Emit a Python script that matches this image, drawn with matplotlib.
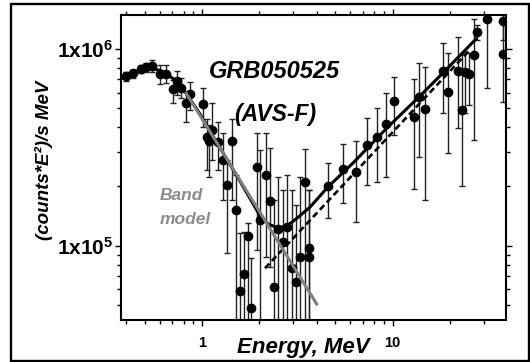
import numpy as np
import matplotlib
matplotlib.use('Agg')
import matplotlib.pyplot as plt
from matplotlib.patches import Rectangle
from matplotlib.ticker import FixedLocator, FixedFormatter, LogLocator, NullFormatter

# GRB050525, AVS-F spectrum; fluxes in units of 1e5 (counts*E^2)/s MeV
energy = [0.398, 0.435, 0.477, 0.510, 0.549, 0.600, 0.645, 0.705, 0.742, 0.779,
          0.827, 0.862, 1.012, 1.058, 1.092, 1.135, 1.209, 1.281, 1.360, 1.436,
          1.513, 1.582, 1.661, 1.743, 1.814, 1.936, 2.014, 2.161, 2.273, 2.374,
          2.489, 2.669, 2.802, 2.953, 3.112, 3.265, 3.468, 3.653, 3.653, 4.596,
          5.508, 6.42, 7.36, 8.30, 9.22, 10.16, 12.93, 13.79, 14.77, 18.29,
          19.43, 22.08, 23.00, 23.94, 25.13, 26.69, 27.57, 31.34, 38.0, 38.0]
flux = [7.32, 7.52, 7.91, 8.07, 8.20, 7.44, 7.46, 6.24, 6.88, 6.31,
        5.30, 5.88, 5.24, 3.58, 3.39, 3.87, 3.36, 2.73, 2.04, 3.39,
        1.51, 0.590, 0.716, 1.12, 0.481, 2.50, 1.35, 2.29, 1.69, 0.617,
        1.22, 1.04, 1.24, 0.770, 0.656, 0.873, 2.10, 0.979, 0.873, 2.01,
        2.45, 2.38, 3.25, 3.56, 4.14, 5.44, 4.50, 5.72, 4.95, 7.76,
        6.03, 7.76, 4.90, 7.66, 7.44, 9.32, 12.16, 14.21, 9.40, 13.93]
flux_hi = [7.66, 7.82, 8.29, 8.46, 8.80, 8.29, 8.29, 6.96, 7.73, 7.10,
           6.07, 6.82, 6.31, 4.39, 4.11, 5.30, 4.24, 3.73, 2.73, 4.39,
           2.29, 1.16, 1.18, 1.30, 0.866, 3.73, 3.07, 3.74, 3.14, 1.71,
           2.24, 1.92, 2.29, 1.92, 1.61, 2.24, 3.10, 1.92, 1.92, 2.64,
           3.28, 3.41, 4.44, 4.99, 6.00, 7.23, 7.01, 8.46, 8.13, 10.77,
           9.51, 11.55, 9.40, 9.69, 9.51, 14.21, 13.24, 16.74, 14.38, 16.74]
# 0.3 = bar runs off the bottom of the plot
flux_lo = [6.90, 7.15, 7.52, 7.66, 7.66, 6.61, 6.69, 5.33, 5.84, 5.62,
           4.27, 4.90, 4.03, 2.43, 2.24, 2.73, 2.43, 1.71, 0.915, 1.71,
           0.3, 0.3, 0.3, 0.3, 0.3, 0.951, 0.3, 0.879, 0.782, 0.3,
           0.3, 0.3, 0.3, 0.3, 0.3, 0.3, 0.3, 0.3, 0.3, 1.38,
           1.65, 1.32, 2.04, 2.10, 2.24, 3.65, 1.94, 2.83, 1.71, 4.71,
           2.95, 3.95, 2.02, 4.71, 5.19, 3.45, 11.11, 6.36, 5.40, 11.11]

# fitted curves
model_E = [0.376, 0.445, 0.534, 0.617, 0.722, 0.824, 0.976, 1.243, 1.582, 1.829,
           2.014, 2.219, 2.503, 2.791, 3.149, 3.684, 4.579, 6.19, 9.34, 13.91,
           18.35, 27.35]
model_F = [7.04, 7.64, 8.01, 7.73, 6.96, 5.97, 4.67, 3.14, 2.13, 1.67,
           1.42, 1.29, 1.23, 1.26, 1.38, 1.57, 1.99, 2.63, 3.97, 5.77,
           7.55, 11.24]
band_E = [0.827, 3.996]
band_F = [5.95, 0.505]
pl_E = [2.14, 25.4]
pl_F = [0.768, 9.89]

ytick_vals = [1e5, 1e6]
ytick_text = [r'$\mathbf{1x10^{5}}$', r'$\mathbf{1x10^{6}}$']
xtick_vals = [1, 10]
xtick_text = ['1', '10']


def plotSpectrum():
    plt.rcParams['font.family'] = ['Liberation Sans', 'DejaVu Sans']
    plt.rcParams['mathtext.fontset'] = 'custom'
    plt.rcParams['mathtext.bf'] = 'Liberation Sans:bold'
    plt.rcParams['mathtext.rm'] = 'Liberation Sans:bold'

    fig = plt.figure(figsize=(5.3, 3.62), dpi=100)
    ax = fig.add_axes([0.2283, 0.116, 0.7264, 0.8412])

    e = np.array(energy)
    f = np.array(flux) * 1e5
    yerr = [f - np.array(flux_lo) * 1e5, np.array(flux_hi) * 1e5 - f]
    ax.errorbar(e, f, yerr=yerr, fmt='o', color='black', ms=6,
                ecolor='#222222', elinewidth=1.0, capsize=2.4, capthick=1.0,
                zorder=2)

    ax.plot(model_E, np.array(model_F) * 1e5, color='black', lw=2.2, zorder=3)
    ax.plot(pl_E, np.array(pl_F) * 1e5, color='black', lw=1.9,
            ls=(0, (2.4, 1.4)), zorder=3)
    ax.plot(band_E, np.array(band_F) * 1e5, color='#808080', lw=2.2, zorder=4)

    ax.set_xscale('log')
    ax.set_yscale('log')
    ax.set_xlim(0.376, 39.3)
    ax.set_ylim(4.19e4, 1.48e6)

    ax.xaxis.set_major_locator(FixedLocator(xtick_vals))
    ax.xaxis.set_major_formatter(FixedFormatter(xtick_text))
    ax.xaxis.set_minor_locator(LogLocator(base=10, subs=np.arange(2, 10)))
    ax.xaxis.set_minor_formatter(NullFormatter())
    ax.yaxis.set_major_locator(FixedLocator(ytick_vals))
    ax.yaxis.set_major_formatter(FixedFormatter(ytick_text))
    ax.yaxis.set_minor_locator(LogLocator(base=10, subs=np.arange(2, 10)))
    ax.yaxis.set_minor_formatter(NullFormatter())

    ax.tick_params(which='both', direction='out', top=True, right=True, width=1)
    ax.tick_params(which='major', length=4.3)
    ax.tick_params(which='minor', length=2.6)
    ax.tick_params(axis='x', which='major', labelsize=10.5, pad=7)
    ax.tick_params(axis='y', which='major', labelsize=15, pad=1)
    for lab in ax.get_xticklabels():
        lab.set_fontweight('bold')
    for sp in ax.spines.values():
        sp.set_linewidth(1.5)

    fig.text(44 / 530, 1 - 160 / 362, '(counts*E²)/s MeV', rotation=90,
             ha='center', va='center', fontsize=13.5, fontweight='bold',
             fontstyle='italic')
    fig.text(303 / 530, 1 - 353 / 362, 'Energy, MeV', ha='center',
             va='baseline', fontsize=16, fontweight='bold', fontstyle='italic')

    fig.text(274 / 530, 1 - 72 / 362, 'GRB050525', ha='center', va='center',
             fontsize=17, fontweight='bold', fontstyle='italic')
    fig.text(275 / 530, 1 - 115 / 362, '(AVS-F)', ha='center', va='center',
             fontsize=16.5, fontweight='bold', fontstyle='italic')
    fig.text(160 / 530, 1 - 196 / 362, 'Band', ha='left', va='center',
             fontsize=12.5, fontweight='bold', fontstyle='italic', color='#8c8c8c')
    fig.text(160 / 530, 1 - 220 / 362, 'model', ha='left', va='center',
             fontsize=12.5, fontweight='bold', fontstyle='italic', color='#8c8c8c')

    # frame round the whole picture
    fig.add_artist(Rectangle((10.5 / 530, 1 - 360.5 / 362), 518 / 530, 357 / 362,
                             transform=fig.transFigure, fill=False,
                             edgecolor='black', lw=1.7, clip_on=False))

    fig.savefig('out.png', dpi=100)


if __name__ == "__main__":
    plotSpectrum()
